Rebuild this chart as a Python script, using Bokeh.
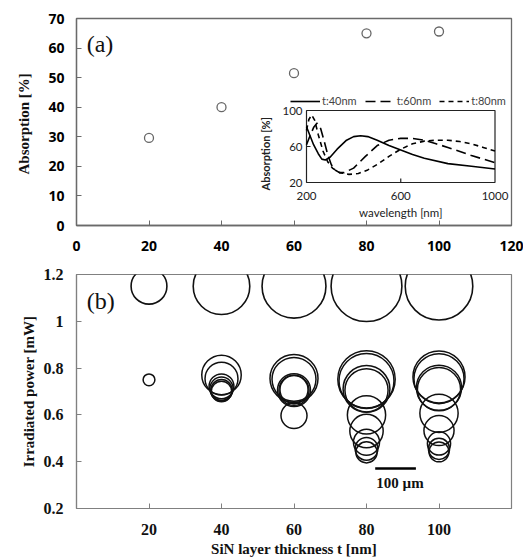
import math
from bokeh.plotting import figure
from bokeh.layouts import column
from bokeh.models import Range1d, FixedTicker, Label, Legend, LegendItem
from bokeh.core.properties import value
from bokeh.embed import file_html
from bokeh.resources import INLINE

# ---------------- data: panel (a) ----------------
thickness_a = [20, 40, 60, 80, 100]
absorption_a = [29.6, 40.0, 51.5, 65.0, 65.6]
x_ticks_a = [0, 20, 40, 60, 80, 100, 120]
y_ticks_a = [0, 10, 20, 30, 40, 50, 60, 70]

# inset spectra
wl_40 = [200, 215, 230, 250, 265, 280, 300, 330, 370, 400, 430, 460, 500, 550, 600, 650, 700, 800, 900, 1000]
abs_40 = [82, 72, 62, 52, 46, 45, 48, 57, 67, 71, 72, 71, 67, 61, 56, 51, 47, 41, 38, 35]
wl_60 = [200, 215, 230, 245, 260, 275, 290, 305, 320, 340, 360, 400, 450, 500, 550, 600, 650, 700, 750, 800, 900, 1000]
abs_60 = [62, 72, 81, 86, 80, 66, 51, 40, 34, 31, 31, 36, 49, 61, 67, 69, 69, 67, 63, 59, 50, 42]
wl_80 = [200, 210, 222, 235, 250, 270, 290, 310, 340, 380, 420, 460, 500, 550, 600, 650, 700, 750, 800, 850, 900, 950, 1000]
abs_80 = [78, 90, 95, 89, 73, 55, 43, 36, 31, 29, 30, 34, 40, 49, 57, 63, 66, 67, 67, 65.5, 63, 59, 55]
inset_labels = ["t:40nm", "t:60nm", "t:80nm"]
inset_x_ticks = [200, 600, 1000]
inset_y_ticks = [20, 60, 100]

# ---------------- data: panel (b) ----------------
top_t = [20, 40, 60, 80, 100]
top_power = [1.15, 1.15, 1.15, 1.15, 1.15]
top_diam_um = [88, 139, 157, 174, 166]

spot_t = [20,
          40, 40, 40, 40, 40, 40,
          60, 60, 60, 60, 60, 60,
          80, 80, 80, 80, 80, 80, 80, 80, 80,
          100, 100, 100, 100, 100, 100, 100, 100, 100]
spot_power = [0.75,
              0.771, 0.755, 0.722, 0.712, 0.705, 0.700,
              0.756, 0.752, 0.706, 0.705, 0.708, 0.597,
              0.752, 0.745, 0.711, 0.705, 0.600, 0.531, 0.483, 0.455, 0.440,
              0.762, 0.755, 0.716, 0.710, 0.607, 0.533, 0.478, 0.455, 0.442]
spot_diam_um = [29,
                97, 81, 61, 57, 53, 50,
                118, 108, 81, 74, 69, 64,
                141, 135, 115, 106, 94, 82, 64, 56, 52,
                128, 123, 111, 106, 94, 74, 57, 52, 49]
x_ticks_b = [20, 40, 60, 80, 100]
y_ticks_b = [0.2, 0.4, 0.6, 0.8, 1.0, 1.2]
y_labels_b = ["0.2", "0.4", "0.6", "0.8", "1", "1.2"]
scale_bar_um = 100

# ---------------- layout constants ----------------
W = 523
BL, BR = 76, 12
FW = W - BL - BR
H1, BT1, FH1 = 262, 18, 207
H2, BT2, FH2 = 298, 12, 234
PX_PER_UM = 0.407

SANS = "Open Sans"
INSET_FONT = "Lato"
SERIF = "Liberation Serif"
AX_COL = "#6a6a6a"

# ---------------- panel (a) ----------------
p1 = figure(width=W, height=H1, x_range=Range1d(0, 120), y_range=Range1d(0, 70),
            output_backend="svg", toolbar_location=None,
            min_border_left=BL, min_border_right=BR, min_border_top=BT1,
            min_border_bottom=H1 - BT1 - FH1)
p1.grid.grid_line_color = None
p1.outline_line_color = AX_COL
p1.outline_line_width = 1.3
for ax in (p1.xaxis[0], p1.yaxis[0]):
    ax.axis_line_color = AX_COL
    ax.axis_line_width = 1.3
    ax.major_tick_line_color = AX_COL
    ax.major_tick_in = 5
    ax.major_tick_out = 0
    ax.minor_tick_line_color = None
    ax.major_label_text_font = SANS
    ax.major_label_text_font_style = "bold"
    ax.major_label_text_font_size = "14px"
    ax.major_label_text_color = "#000000"
p1.xaxis.ticker = FixedTicker(ticks=x_ticks_a)
p1.yaxis.ticker = FixedTicker(ticks=y_ticks_a)
p1.xaxis.major_label_standoff = 15
p1.yaxis.major_label_standoff = 12
p1.yaxis.axis_label = "Absorption  [%]"
p1.yaxis.axis_label_text_font = SERIF
p1.yaxis.axis_label_text_font_style = "bold"
p1.yaxis.axis_label_text_font_size = "15px"
p1.yaxis.axis_label_text_color = "#111111"
p1.yaxis.axis_label_standoff = 13

p1.scatter(thickness_a, absorption_a, marker="circle", size=9, fill_color=None,
           line_color="#666666", line_width=1.3)

p1.add_layout(Label(x=2.8, y=61.5, text="(a)", text_font=SERIF, text_font_size="24px",
                    text_baseline="middle", text_color="#111111"))

# inset mapped with its own ranges
IL, IR, IT, IB = 230, 418.5, 92, 164  # inset box inside frame (px from frame left / top)
ppn = (IR - IL) / (inset_x_ticks[-1] - inset_x_ticks[0])
ppv = (IB - IT) / (inset_y_ticks[-1] - inset_y_ticks[0])
x0i, x1i = inset_x_ticks[0], inset_x_ticks[-1]
y0i, y1i = inset_y_ticks[0], inset_y_ticks[-1]
p1.extra_x_ranges = {"ix": Range1d(x0i - IL / ppn, x1i + (FW - IR) / ppn)}
p1.extra_y_ranges = {"iy": Range1d(y0i - (FH1 - IB) / ppv, y1i + IT / ppv)}
kw = dict(x_range_name="ix", y_range_name="iy")

p1.quad(left=[x0i], right=[x1i], bottom=[y0i], top=[y1i], fill_color=None,
        line_color="#222222", line_width=1.2, **kw)
p1.segment(x0=[600], y0=[y0i], x1=[600], y1=[y0i + 4 / ppv], line_color="#222222", line_width=1.2, **kw)
p1.segment(x0=[x0i], y0=[60], x1=[x0i + 4 / ppn], y1=[60], line_color="#222222", line_width=1.2, **kw)

r40 = p1.line(wl_40, abs_40, line_color="black", line_width=1.6, **kw)
r60 = p1.line(wl_60, abs_60, line_color="black", line_width=1.6, line_dash="10 5", **kw)
r80 = p1.line(wl_80, abs_80, line_color="black", line_width=1.6, line_dash="5 4", **kw)

p1.text(x=inset_x_ticks, y=[y0i] * 3, text=[str(v) for v in inset_x_ticks],
        text_font=value(INSET_FONT), text_font_size="11.5px", text_align="center",
        text_baseline="top", y_offset=9, text_color="#222222", **kw)
p1.text(x=[x0i] * 3, y=inset_y_ticks, text=[str(v) for v in inset_y_ticks],
        text_font=value(INSET_FONT), text_font_size="11.5px", text_align="right",
        text_baseline="middle", x_offset=-4, text_color="#222222", **kw)
p1.text(x=[600], y=[y0i], text=["wavelength [nm]"], text_font=value(INSET_FONT),
        text_font_size="11.5px", text_align="center", text_baseline="middle",
        y_offset=30, text_color="#222222", **kw)
p1.text(x=[x0i], y=[(y0i + y1i) / 2 - 8], text=["Absorption [%]"], text_font=value(INSET_FONT),
        text_font_size="11px", text_font_style="bold", text_align="center",
        text_baseline="middle", angle=math.pi / 2, x_offset=-41, text_color="#222222", **kw)

legend = Legend(items=[LegendItem(label=inset_labels[0], renderers=[r40]),
                       LegendItem(label=inset_labels[1], renderers=[r60]),
                       LegendItem(label=inset_labels[2], renderers=[r80])],
                orientation="horizontal", location=(214, 118), padding=0, margin=0,
                spacing=8, glyph_width=30, glyph_height=10, label_standoff=2,
                label_text_font=INSET_FONT, label_text_font_size="11px", label_height=10,
                border_line_color=None, background_fill_alpha=0)
p1.add_layout(legend)

# ---------------- panel (b) ----------------
p2 = figure(width=W, height=H2, x_range=Range1d(0, 120), y_range=Range1d(0.2, 1.2),
            output_backend="svg", toolbar_location=None,
            min_border_left=BL, min_border_right=BR, min_border_top=BT2,
            min_border_bottom=H2 - BT2 - FH2)
p2.grid.grid_line_color = None
p2.outline_line_color = "#808080"
p2.outline_line_width = 1.2
for ax in (p2.xaxis[0], p2.yaxis[0]):
    ax.axis_line_color = "#808080"
    ax.axis_line_width = 1.2
    ax.major_tick_line_color = "#808080"
    ax.major_tick_in = 5
    ax.major_tick_out = 0
    ax.minor_tick_line_color = None
    ax.major_label_text_font = SERIF
    ax.major_label_text_font_style = "bold"
    ax.major_label_text_font_size = "16px"
    ax.major_label_text_color = "#111111"
    ax.axis_label_text_font = SERIF
    ax.axis_label_text_font_style = "bold"
    ax.axis_label_text_font_size = "15px"
    ax.axis_label_text_color = "#111111"
p2.xaxis.ticker = FixedTicker(ticks=x_ticks_b)
p2.yaxis.ticker = FixedTicker(ticks=y_ticks_b)
p2.yaxis.major_label_overrides = dict(zip(y_ticks_b, y_labels_b))
p2.xaxis.major_label_standoff = 15
p2.yaxis.major_label_standoff = 13
p2.xaxis.axis_label = "SiN layer thickness t [nm]"
p2.xaxis.axis_label_standoff = 3
p2.yaxis.axis_label = "Irradiated power [mW]"
p2.yaxis.axis_label_standoff = 4

p2.scatter(top_t, top_power, marker="circle", size=[d * PX_PER_UM for d in top_diam_um],
           fill_color=None, line_color="#111111", line_width=1.6)
p2.scatter(spot_t, spot_power, marker="circle", size=[d * PX_PER_UM for d in spot_diam_um],
           fill_color=None, line_color="#111111", line_width=1.5)

p2.add_layout(Label(x=2.8, y=1.086, text="(b)", text_font=SERIF, text_font_size="24px",
                    text_baseline="middle", text_color="#111111"))

bar_x0, bar_y = 82.4, 0.371
bar_len = scale_bar_um * PX_PER_UM * 120 / FW
p2.segment(x0=[bar_x0], y0=[bar_y], x1=[bar_x0 + bar_len], y1=[bar_y],
           line_color="black", line_width=2.6)
p2.add_layout(Label(x=bar_x0 + 0.3, y=bar_y, y_offset=-15, text=f"{scale_bar_um} µm",
                    text_font=SERIF, text_font_style="bold", text_font_size="15px",
                    text_baseline="middle", text_color="#111111"))

layout = column(p1, p2, spacing=0)
open("out.html", "w").write(file_html(layout, INLINE))
